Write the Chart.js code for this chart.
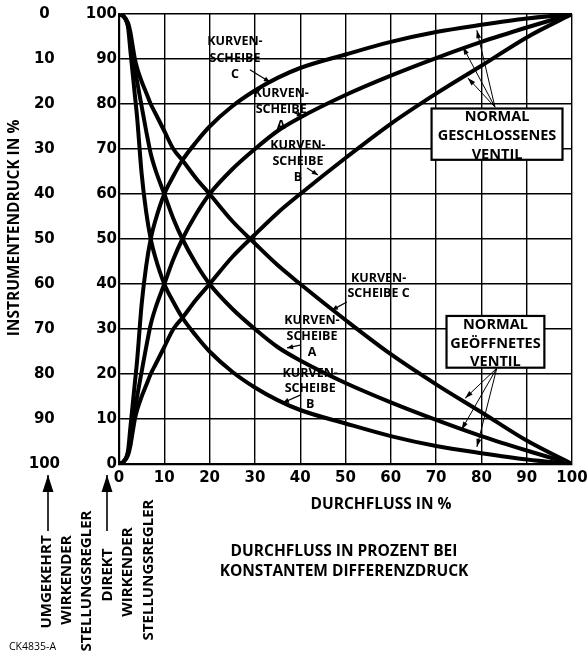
<!DOCTYPE html>
<html lang="de">
<head>
<meta charset="UTF-8">
<title>Kurvenscheiben Kennlinien</title>
<script src="https://cdn.jsdelivr.net/npm/chart.js"></script>
<style>
  body { margin: 0; background: #fff; }
  #wrap { position: relative; width: 587px; height: 654px; }
</style>
</head>
<body>
<div id="wrap"><canvas id="chart"></canvas></div>
<script>
// Durchfluss in % (gemeinsame x-Werte fuer alle Kurven)
const durchfluss = [0, 1, 2, 2.5, 3, 3.5, 4, 5, 6, 7, 8, 10, 12, 14, 17, 20, 25, 30, 35, 40, 50, 60, 70, 80, 90, 100];

// Normal geschlossenes Ventil: Instrumentendruck in %
const geschlossenC = [0, 0.5, 3, 8, 13, 18, 23, 35.5, 44, 50, 54, 60, 64, 67.5, 71.5, 75, 79.5, 83, 85.8, 88, 91, 93.8, 96, 97.6, 99, 100];
const geschlossenA = [0, 0.5, 2.5, 5, 8.5, 12, 15, 20.5, 26, 31, 34.5, 40, 45.5, 50, 55.5, 60, 65.5, 70, 74, 77, 82, 86.3, 90.2, 93.8, 97, 100];
const geschlossenB = [0, 0.5, 2, 4, 7, 10, 12, 15, 17.5, 20, 22, 26, 30, 32.5, 36.5, 40, 46, 51, 55.8, 60, 68, 75.6, 82.3, 88.5, 94.8, 100];

// Normal geoeffnetes Ventil: Instrumentendruck in %
const geoeffnetC = [100, 99.5, 98, 96, 93, 90, 88, 85, 82.5, 80, 78, 74, 70, 67.5, 63.5, 60, 54, 49, 44.2, 40, 32, 24.4, 17.7, 11.5, 5.2, 0];
const geoeffnetA = [100, 99.5, 97.5, 95, 91.5, 88, 85, 79.5, 74, 69, 65.5, 60, 54.5, 50, 44.5, 40, 34.5, 30, 26, 23, 18, 13.7, 9.8, 6.2, 3, 0];
const geoeffnetB = [100, 99.5, 97, 92, 87, 82, 77, 64.5, 56, 50, 46, 40, 36, 32.5, 28.5, 25, 20.5, 17, 14.2, 12, 9, 6.2, 4, 2.4, 1, 0];

// Achsbeschriftungen
const flussTicks = [0, 10, 20, 30, 40, 50, 60, 70, 80, 90, 100];
const druckTicks = [0, 10, 20, 30, 40, 50, 60, 70, 80, 90, 100];

const TEXT_FONT = '"Open Sans", "DejaVu Sans", sans-serif';
const NUM_FONT = '"DejaVu Sans", sans-serif';

const kurve = (werte) => ({
    data: durchfluss.map((x, i) => ({ x: x, y: werte[i] })),
    borderColor: '#000',
    borderWidth: 4,
    pointRadius: 0,
    cubicInterpolationMode: 'monotone',
    borderJoinStyle: 'round',
    borderCapStyle: 'round'
});

// Pfeil mit gefuellter Spitze
function pfeil(ctx, x1, y1, x2, y2, len, breite) {
    ctx.beginPath();
    ctx.moveTo(x1, y1);
    ctx.lineTo(x2, y2);
    ctx.stroke();
    const a = Math.atan2(y2 - y1, x2 - x1);
    const bx = x2 - len * Math.cos(a), by = y2 - len * Math.sin(a);
    ctx.beginPath();
    ctx.moveTo(x2, y2);
    ctx.lineTo(bx + breite * Math.sin(a), by - breite * Math.cos(a));
    ctx.lineTo(bx - breite * Math.sin(a), by + breite * Math.cos(a));
    ctx.closePath();
    ctx.fill();
}

function senkrecht(ctx, text, cx, cy) {
    ctx.save();
    ctx.translate(cx, cy);
    ctx.rotate(-Math.PI / 2);
    ctx.fillText(text, 0, 0);
    ctx.restore();
}

const beschriftung = {
    id: 'beschriftung',
    afterDraw(chart) {
        const { ctx, scales: { x, y } } = chart;
        const px = v => x.getPixelForValue(v);
        const py = v => y.getPixelForValue(v);
        ctx.save();
        ctx.fillStyle = '#000';
        ctx.strokeStyle = '#000';
        ctx.textAlign = 'center';
        ctx.textBaseline = 'middle';

        // Kurvenscheiben-Beschriftungen
        ctx.font = 'bold 12.5px ' + TEXT_FONT;
        ctx.lineWidth = 1.2;
        const label = (zeilen, lx, ly, dy) => {
            zeilen.forEach((t, i) => ctx.fillText(t, px(lx), py(ly) + i * dy));
        };
        label(['KURVEN-', 'SCHEIBE', 'C'], 25.6, 93.8, 16.5);
        pfeil(ctx, px(28.9), py(87.6), px(33.3), py(84.9), 6, 2.5);
        label(['KURVEN-', 'SCHEIBE', 'A'], 35.8, 82.4, 16);
        pfeil(ctx, px(38.4), py(78.2), px(40.6), py(77.3), 6, 2.5);
        label(['KURVEN-', 'SCHEIBE', 'B'], 39.5, 70.9, 16);
        pfeil(ctx, px(41.5), py(65.8), px(43.9), py(64.2), 6, 2.5);

        label(['KURVEN-', 'SCHEIBE C'], 57.3, 41.3, 15);
        pfeil(ctx, px(50.3), py(36), px(47), py(34.2), 6, 2.5);
        label(['KURVEN-', 'SCHEIBE', 'A'], 42.6, 32, 16);
        pfeil(ctx, px(40), py(26.4), px(37.1), py(25.8), 6, 2.5);
        label(['KURVEN-', 'SCHEIBE', 'B'], 42.2, 20.2, 15.5);
        pfeil(ctx, px(40), py(15.3), px(36.2), py(13.6), 6, 2.5);

        // Kaesten
        const kasten = (x1, y1, x2, y2, zeilen, ty, dy) => {
            const l = px(x1), t = py(y1), r = px(x2), b = py(y2);
            ctx.fillStyle = '#fff';
            ctx.fillRect(l, t, r - l, b - t);
            ctx.fillStyle = '#000';
            ctx.font = 'bold 14.5px ' + TEXT_FONT;
            zeilen.forEach((z, i) => ctx.fillText(z, (l + r) / 2, py(ty) + i * dy));
            ctx.lineWidth = 2.2;
            ctx.strokeRect(l, t, r - l, b - t);
        };
        ctx.lineWidth = 1;
        [[79, 96.4], [75.9, 92.7], [77, 85.8]].forEach(p =>
            pfeil(ctx, px(83), py(79.3), px(p[0]), py(p[1]), 8, 2.5));
        kasten(69, 79, 97.9, 67.6, ['NORMAL', 'GESCHLOSSENES', 'VENTIL'], 77.2, 19);

        ctx.lineWidth = 1;
        [[76.4, 14.6], [75.6, 7.6], [79, 3.8]].forEach(p =>
            pfeil(ctx, px(83.4), py(21.3), px(p[0]), py(p[1]), 8, 2.5));
        kasten(72.3, 32.9, 93.9, 21.4, ['NORMAL', 'GEÖFFNETES', 'VENTIL'], 30.9, 18.5);

        // Achsentitel
        ctx.font = 'bold 15.5px ' + TEXT_FONT;
        senkrecht(ctx, 'INSTRUMENTENDRUCK IN %', 15, 228);
        ctx.fillText('DURCHFLUSS IN %', 381, 505);
        ctx.fillText('DURCHFLUSS IN PROZENT BEI', 344, 552);
        ctx.fillText('KONSTANTEM DIFFERENZDRUCK', 344, 572);

        // Wirkrichtung des Stellungsreglers
        ctx.lineWidth = 1.6;
        pfeil(ctx, 48, 531, 48, 475, 17, 5.5);
        pfeil(ctx, 107, 531, 107, 475, 17, 5.5);
        ctx.font = 'bold 15px ' + TEXT_FONT;
        senkrecht(ctx, 'UMGEKEHRT', 47, 582);
        senkrecht(ctx, 'WIRKENDER', 67, 580);
        senkrecht(ctx, 'STELLUNGSREGLER', 87, 581);
        senkrecht(ctx, 'DIREKT', 108, 575);
        senkrecht(ctx, 'WIRKENDER', 128, 572);
        senkrecht(ctx, 'STELLUNGSREGLER', 149, 570);

        ctx.font = '10.5px ' + TEXT_FONT;
        ctx.textAlign = 'left';
        ctx.fillText('CK4835-A', 9, 647);
        ctx.restore();
    }
};

// Randabstaende der Achsen abschalten, damit nur layout.padding zaehlt
const ohneRand = (s) => {
    s.paddingLeft = 0; s.paddingRight = 0;
    s.paddingTop = 0; s.paddingBottom = 0;
};

new Chart(document.getElementById('chart'), {
    type: 'line',
    data: {
        datasets: [
            kurve(geschlossenC), kurve(geschlossenA), kurve(geschlossenB),
            kurve(geoeffnetC), kurve(geoeffnetA), kurve(geoeffnetB)
        ]
    },
    options: {
        responsive: true,
        maintainAspectRatio: false,
        animation: false,
        events: [],
        layout: { padding: { top: 14, right: 15, left: 0, bottom: 0 } },
        plugins: { legend: { display: false }, tooltip: { enabled: false } },
        scales: {
            x: {
                type: 'linear',
                min: 0, max: 100,
                afterBuildTicks: s => { s.ticks = flussTicks.map(v => ({ value: v })); },
                afterFit: s => { s.height = 190; ohneRand(s); },
                grid: { color: '#000', lineWidth: 1.4, drawTicks: false },
                border: { color: '#000', width: 2.2 },
                ticks: { autoSkip: false, maxRotation: 0, padding: 5, color: '#000',
                         font: { family: NUM_FONT, size: 15, weight: 'bold' } }
            },
            y: {
                position: 'left',
                weight: 0,
                min: 0, max: 100,
                afterBuildTicks: s => { s.ticks = druckTicks.map(v => ({ value: v })); },
                afterFit: s => { s.width = 49; ohneRand(s); },
                grid: { color: '#000', lineWidth: 1.4, drawTicks: false },
                border: { color: '#000', width: 2.2 },
                ticks: { autoSkip: false, padding: 2, color: '#000',
                         font: { family: NUM_FONT, size: 15, weight: 'bold' } }
            },
            y2: {
                position: 'left',
                weight: 1,
                reverse: true,
                min: 0, max: 100,
                afterBuildTicks: s => { s.ticks = druckTicks.map(v => ({ value: v })); },
                afterFit: s => { s.width = 70; ohneRand(s); },
                grid: { display: false, drawTicks: false },
                border: { display: false },
                ticks: { autoSkip: false, padding: 10, crossAlign: 'center', color: '#000',
                         font: { family: NUM_FONT, size: 15, weight: 'bold' } }
            }
        }
    },
    plugins: [beschriftung]
});
</script>
</body>
</html>
